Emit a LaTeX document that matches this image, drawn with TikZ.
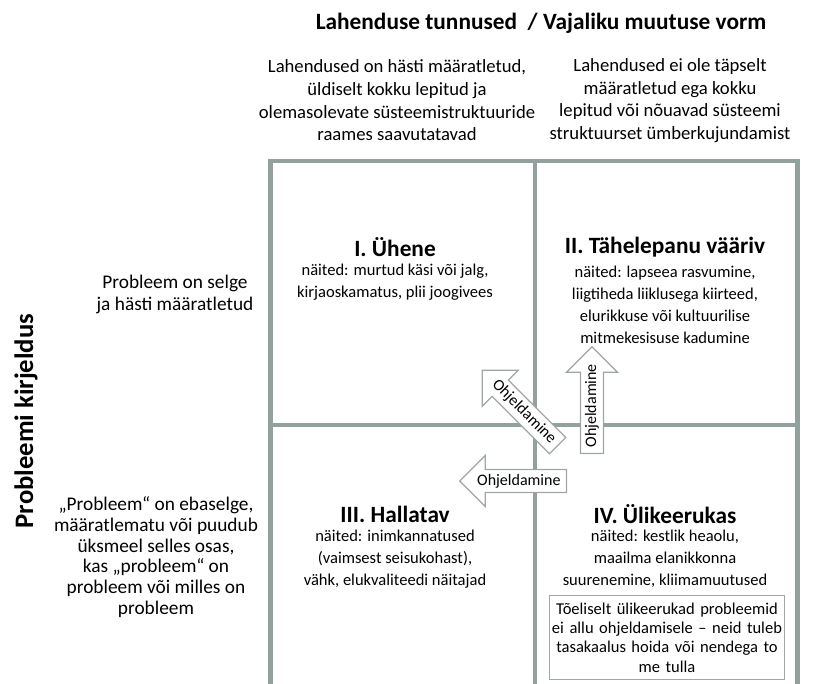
\documentclass[tikz,border=0pt]{standalone}
\usepackage{fontspec}
\setmainfont{Carlito}
\usetikzlibrary{shapes.arrows}

\definecolor{gridgray}{RGB}{146,161,158}
\definecolor{arrowgray}{RGB}{160,165,165}

\tikzset{
  maintitle/.style={font=\fontsize{17.5}{20}\selectfont\bfseries, inner sep=0pt},
  colhead/.style={align=center, font=\fontsize{14}{17}\selectfont, inner sep=0pt},
  rowhead/.style={align=center, font=\fontsize{14.5}{15.5}\selectfont, inner sep=0pt},
  quadtitle/.style={font=\fontsize{17.5}{20}\selectfont\bfseries, inner sep=0pt},
  quadtext/.style={align=center, font=\fontsize{12.4}{16.5}\selectfont, inner sep=0pt},
  curbarrow/.style={single arrow, draw=arrowgray, fill=white, line width=0.9pt,
    font=\fontsize{12}{14}\selectfont, minimum height=80pt, single arrow head extend=10.5pt,
    inner xsep=1pt, inner ysep=3pt, anchor=tail}
}

\begin{document}
\begin{tikzpicture}[x=0.75pt,y=0.75pt,yscale=-1,xscale=1]
\useasboundingbox (0,0) rectangle (816,684);

%Shape: Grid
\begin{scope}
\clip (0,0) rectangle (816,684);
\draw [gridgray, line width=3.6pt] (270.5,700) -- (270.5,161) -- (797.5,161) -- (797.5,700);
\draw [gridgray, line width=3.6pt] (535,161) -- (535,700);
\draw [gridgray, line width=3.6pt] (270.5,425) -- (797.5,425);
\end{scope}

% Text Node
\node [maintitle] (title) at (541,23) {Lahenduse tunnused \ / Vajaliku muutuse vorm};
% Text Node
\node [colhead] (solclear) at (397,100.5) {Lahendused on hästi määratletud,\\üldiselt kokku lepitud ja\\olemasolevate süsteemistruktuuride\\raames saavutatavad};
% Text Node
\node [colhead] (solvague) at (670,100.5) {Lahendused ei ole täpselt\\määratletud ega kokku\\lepitud või nõuavad süsteemi\\struktuurset ümberkujundamist};
% Text Node
\node [rowhead, font=\fontsize{14.5}{16.5}\selectfont] (probclear) at (175,294) {Probleem on selge\\ja hästi määratletud};
% Text Node
\node [rowhead] (probvague) at (156,557) {„Probleem“ on ebaselge,\\määratlematu või puudub\\üksmeel selles osas,\\kas „probleem“ on\\probleem või milles on\\probleem};
% Text Node
\node [maintitle, font=\fontsize{20}{24}\selectfont\bfseries, rotate=90] (probtitle) at (26,421) {Probleemi kirjeldus};

% Quadrant I
\node [quadtitle] (simple) at (395,247) {I. Ühene};
\node [quadtext] (simpleex) at (395,282) {näited: murtud käsi või jalg,\\kirjaoskamatus, plii joogivees};
% Quadrant II
\node [quadtitle] (notable) at (665,247) {II. Tähelepanu vääriv};
\node [quadtext] (notableex) at (665,305) {näited: lapseea rasvumine,\\liigtiheda liiklusega kiirteed,\\elurikkuse või kultuurilise\\mitmekesisuse kadumine};
% Quadrant III
\node [quadtitle] (managed) at (395,514) {III. Hallatav};
\node [quadtext] (managedex) at (395,559) {näited: inimkannatused\\(vaimsest seisukohast),\\vähk, elukvaliteedi näitajad};
% Quadrant IV
\node [quadtitle] (wicked) at (665,514) {IV. Ülikeerukas};
\node [quadtext] (wickedex) at (665,559) {näited: kestlik heaolu,\\maailma elanikkonna\\suurenemine, kliimamuutused};
\node [quadtext, font=\fontsize{12.4}{14.5}\selectfont, draw=arrowgray, line width=0.9pt, text width=176pt, minimum height=63pt] (wickednote) at (667,637.5) {Tõeliselt ülikeerukad probleemid\\ei allu ohjeldamisele – neid tuleb\\tasakaalus hoida või nendega to\\me tulla};

% Arrows
\node [curbarrow, rotate=90] (curbup) at (592,454) {Ohjeldamine};
\node [curbarrow, rotate=-45, shape border rotate=180] (curbdiag) at (558,446) {Ohjeldamine};
\node [curbarrow, shape border rotate=180] (curbleft) at (567,481) {Ohjeldamine};

\end{tikzpicture}
\end{document}
